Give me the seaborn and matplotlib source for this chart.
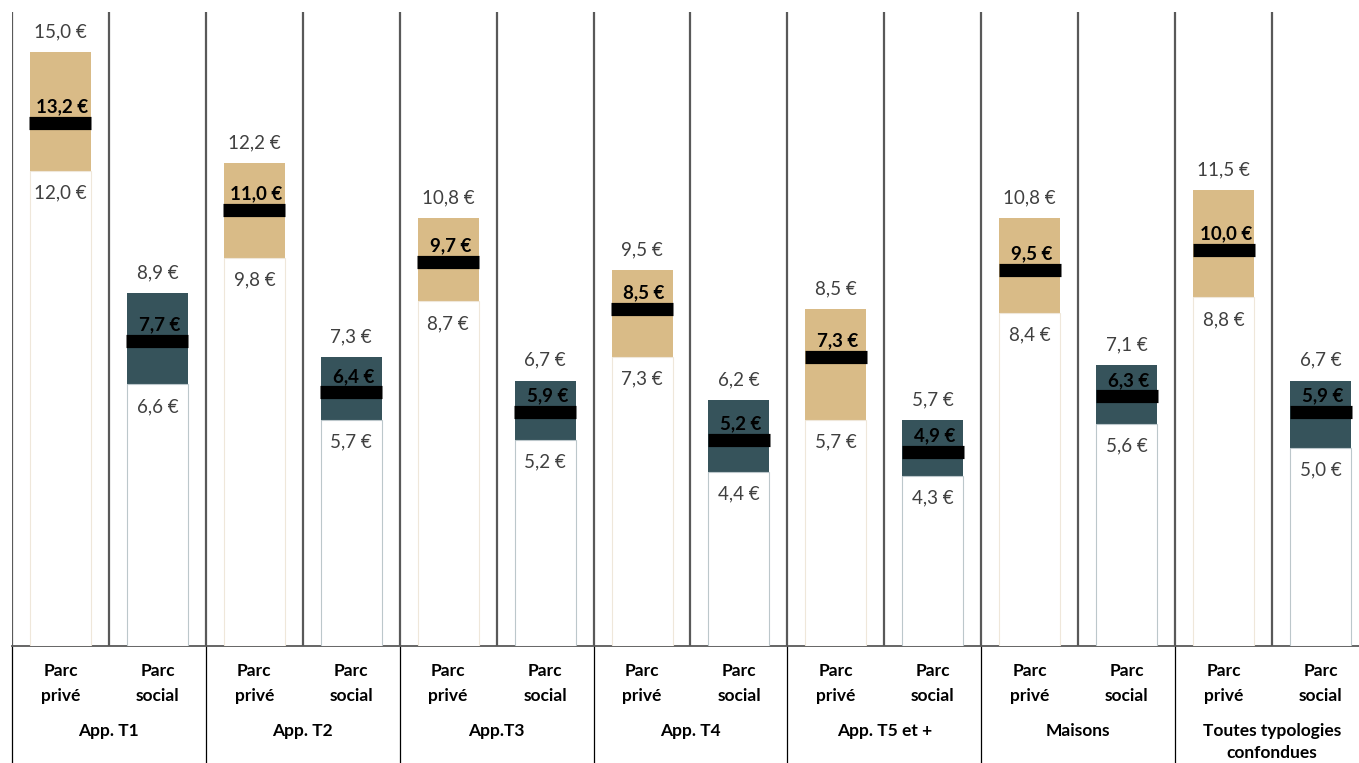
import matplotlib
matplotlib.use("Agg")
import matplotlib.pyplot as plt
import matplotlib.transforms as mtransforms
import seaborn as sns
import pandas as pd
import numpy as np

# ---- data ----
groups = ["App. T1", "App. T2", "App.T3", "App. T4", "App. T5 et +", "Maisons",
          "Toutes typologies\nconfondues"]
parcs = ["Parc\nprivé", "Parc\nsocial"]
prive_high = [15.0, 12.2, 10.8, 9.5, 8.5, 10.8, 11.5]
prive_median = [13.2, 11.0, 9.7, 8.5, 7.3, 9.5, 10.0]
prive_low = [12.0, 9.8, 8.7, 7.3, 5.7, 8.4, 8.8]
social_high = [8.9, 7.3, 6.7, 6.2, 5.7, 7.1, 6.7]
social_median = [7.7, 6.4, 5.9, 5.2, 4.9, 6.3, 5.9]
social_low = [6.6, 5.7, 5.2, 4.4, 4.3, 5.6, 5.0]

rows = []
for i, g in enumerate(groups):
    rows.append(dict(slot=f"{i}-P", group=g, parc=parcs[0], high=prive_high[i],
                     median=prive_median[i], low=prive_low[i]))
    rows.append(dict(slot=f"{i}-S", group=g, parc=parcs[1], high=social_high[i],
                     median=social_median[i], low=social_low[i]))
df = pd.DataFrame(rows)
order = list(df["slot"])

TAN = "#D9BB87"
TEAL = "#36535B"
EDGE = {parcs[0]: "#EFE7DA", parcs[1]: "#BCC7CB"}
FILL = {parcs[0]: TAN, parcs[1]: TEAL}

sns.set_theme(style="white")
plt.rcParams["font.family"] = ["Lato", "DejaVu Sans"]

W, H = 1359, 763
fig = plt.figure(figsize=(W / 100, H / 100), dpi=100)
left_px, right_px, top_px, bottom_px = 12, 1369, 12, 646
ax = fig.add_axes([left_px / W, (H - bottom_px) / H, (right_px - left_px) / W,
                   (bottom_px - top_px) / H])

BW = 0.63
for p in parcs:
    sub = df[df["parc"] == p]
    # full bar up to high, colored
    sns.barplot(data=sub, x="slot", y="high", order=order, color=FILL[p],
                width=BW, saturation=1, ax=ax, linewidth=0, zorder=2)
for p in parcs:
    sub = df[df["parc"] == p]
    # white bar from 0 to low
    sns.barplot(data=sub, x="slot", y="low", order=order, color="white",
                width=BW, saturation=1, ax=ax, edgecolor=EDGE[p], linewidth=0.8,
                zorder=3)

# median markers
sns.scatterplot(data=df, x="slot", y="median", marker="_", s=45 ** 2,
                linewidth=9.5, color="black", ax=ax, zorder=5, legend=False)

# labels
pos = {s: i for i, s in enumerate(order)}
for _, r in df.iterrows():
    x = pos[r["slot"]]
    ax.annotate(f"{r['high']:.1f} €".replace(".", ","), (x, r["high"]),
                xytext=(0, 14.5), textcoords="offset points", ha="center",
                va="center", fontsize=13.5, color="#404040", zorder=6)
    ax.annotate(f"{r['low']:.1f} €".replace(".", ","), (x, r["low"]),
                xytext=(0, -16), textcoords="offset points", ha="center",
                va="center", fontsize=13.5, color="#404040", zorder=6)
    ax.annotate(f"{r['median']:.1f} €".replace(".", ","), (x, r["median"]),
                xytext=(1.5, 11.5), textcoords="offset points", ha="center",
                va="center", fontsize=13.5, color="black", fontweight="bold",
                zorder=6)

ax.set_xlim(-0.5, len(order) - 0.5)
ax.set_ylim(0, 16)
ax.set_yticks([])
ax.set_xlabel("")
ax.set_ylabel("")

# vertical separators at each slot boundary
ax.set_xticks(np.arange(-0.5, len(order), 1.0), minor=True)
ax.grid(False)
ax.grid(which="minor", axis="x", color="#595959", linewidth=1.6, zorder=1)
ax.tick_params(which="both", length=0)

for s in ["top", "right", "left"]:
    ax.spines[s].set_visible(False)
ax.spines["bottom"].set_color("#595959")
ax.spines["bottom"].set_linewidth(1.3)

# category tick labels
ax.set_xticks(range(len(order)))
ax.set_xticklabels(list(df["parc"]), fontsize=12.5, fontweight="bold",
                   color="black", linespacing=1.75)
ax.tick_params(axis="x", pad=12)

# group labels and group separators below axis
trans = mtransforms.blended_transform_factory(ax.transData, ax.transAxes)
ax_h_px = bottom_px - top_px
for i, g in enumerate(groups):
    ax.text(2 * i + 0.5, -(723 - bottom_px) / ax_h_px, g, transform=trans,
            ha="center", va="top", fontsize=12.5, fontweight="bold",
            color="black", linespacing=1.5)
for b in np.arange(-0.5, len(order), 2.0):
    ax.plot([b, b], [0, -(H - bottom_px) / ax_h_px], transform=trans,
            color="black", linewidth=0.9, clip_on=False, zorder=1)

fig.savefig("out.png", dpi=100, facecolor="white")
